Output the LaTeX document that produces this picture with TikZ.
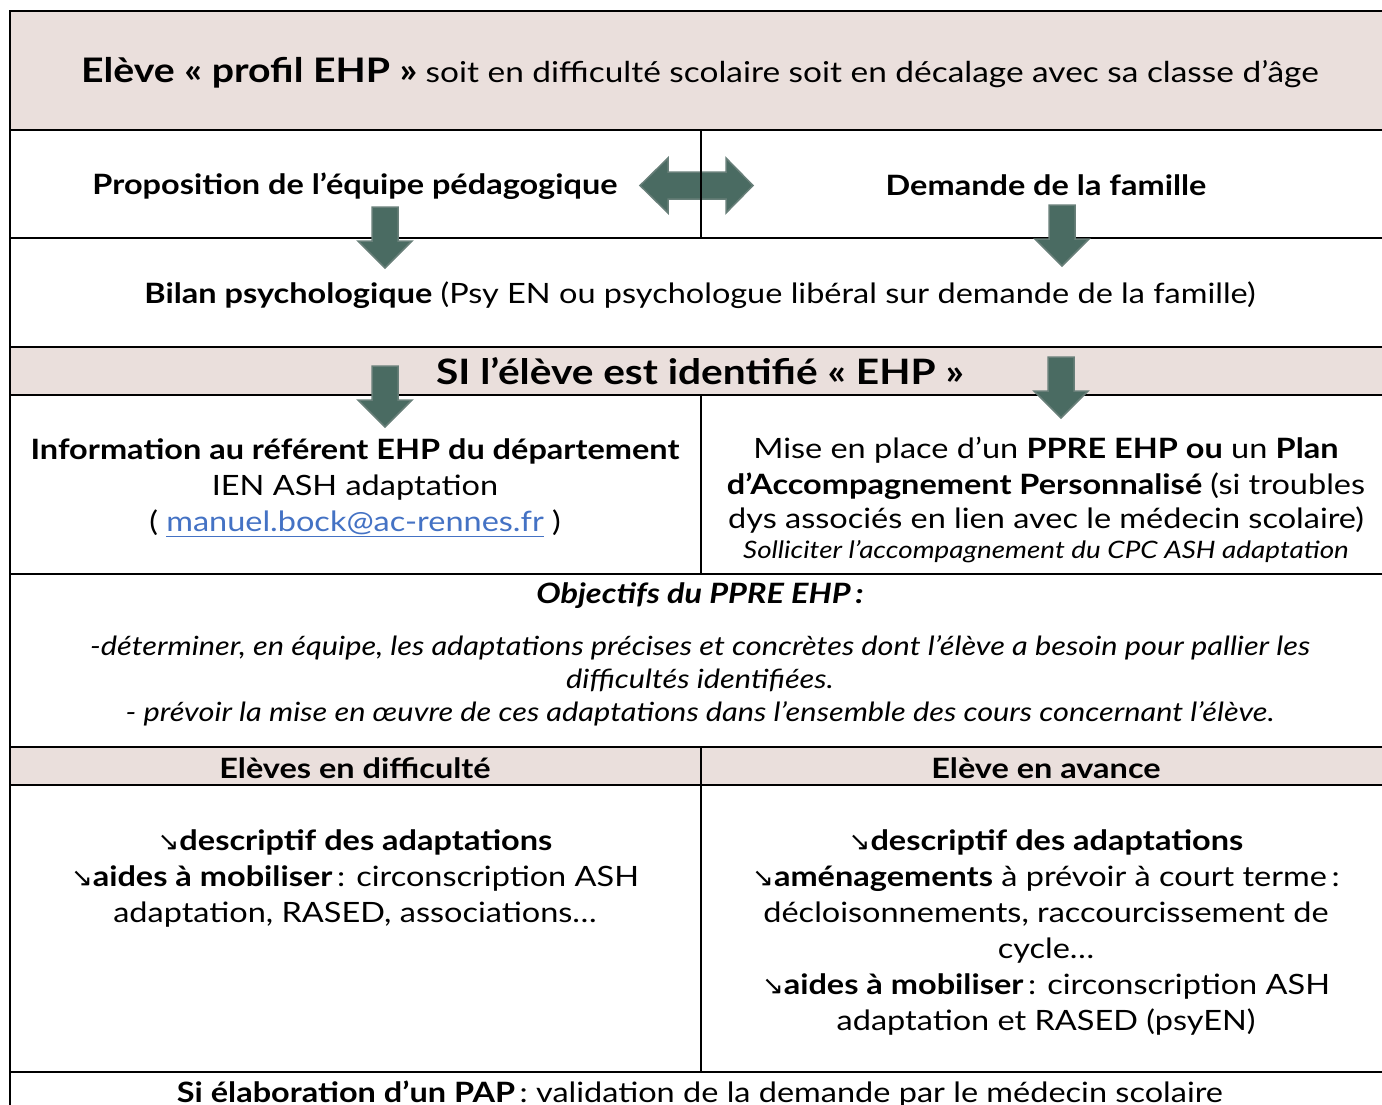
\documentclass[tikz,border=0pt]{standalone}
\usepackage{fontspec}
\setmainfont{Lato}[FakeStretch=1.16]
\newfontfamily\arrowsym{DejaVu Sans}
\definecolor{rowpink}{HTML}{EADFDC}
\definecolor{arrowfill}{HTML}{4A6B62}
\definecolor{arrowline}{HTML}{687F79}
\definecolor{linkblue}{HTML}{4472C4}
\newcommand{\dsym}{{\arrowsym\fontsize{26}{36}\selectfont ↘}}
\tikzset{
  grid/.style={line width=2pt, draw=black},
  band/.style={fill=rowpink},
  txt/.style={align=center, inner sep=0pt, font=\fontsize{28}{36}\selectfont},
  bigarrow/.style={fill=arrowfill, draw=arrowline, line width=1.5pt, line join=miter},
  downarr/.pic={\path[bigarrow] (-13,0) -- (13,0) -- (13,34) -- (27,34) -- (0,61) -- (-27,34) -- (-13,34) -- cycle;}
}
\begin{document}
\begin{tikzpicture}[x=1pt,y=-1pt]
\useasboundingbox (0,0) rectangle (1382,1104);
\clip (0,0) rectangle (1382,1104);
% bands
\path[band] (10,11) rectangle (1390,130);
\path[band] (10,347) rectangle (1390,395);
\path[band] (10,747) rectangle (1390,785);
% double arrow (under divider)
\path[bigarrow] (640,185.5) -- (668,158) -- (668,172) -- (726,172) -- (726,158) -- (753,185.5)
  -- (726,213) -- (726,199) -- (668,199) -- (668,213) -- cycle;
% grid
\draw[grid] (10,11) -- (1390,11);
\draw[grid] (10,10) -- (10,1110);
\foreach \yy in {130,238,347,395,574,747,785,1072} \draw[grid] (10,\yy) -- (1390,\yy);
\draw[grid] (701,130) -- (701,238);
\draw[grid] (701,395) -- (701,574);
\draw[grid] (701,747) -- (701,1072);
% down arrows
\pic at (385,207) {downarr};
\pic at (1062,205) {downarr};
\pic at (385,366) {downarr};
\pic at (1061,357) {downarr};
% texts
\node[txt] (title) at (700,73) {{\fontsize{33.8}{40}\selectfont\bfseries Elève «~profil EHP~»} {\fontsize{28.8}{36}\selectfont soit en difficulté scolaire soit en décalage avec sa classe d’âge}};
\node[txt,font=\fontsize{28}{36}\selectfont\bfseries] (prop) at (355,186) {Proposition de l’équipe pédagogique};
\node[txt,font=\fontsize{28}{36}\selectfont\bfseries] (dem) at (1046,185) {Demande de la famille};
\node[txt] (bilan) at (700,295) {\textbf{Bilan psychologique} (Psy EN ou psychologue libéral sur demande de la famille)};
\node[txt,font=\fontsize{35}{40}\selectfont\bfseries] (si) at (700,371) {SI l’élève est identifié «~EHP~»};
\node[txt] (info) at (355,488) {\textbf{Information au référent EHP du département}\\IEN ASH adaptation\\( \textcolor{linkblue}{\underline{manuel.bock@ac-rennes.fr}} )};
\node[txt] (ppre) at (1046,500) {Mise en place d’un \textbf{PPRE EHP ou} un \textbf{Plan}\\\textbf{d’Accompagnement Personnalisé} (si troubles\\[-2pt]dys associés en lien avec le médecin scolaire)\\[-6pt]{\fontsize{24}{30}\selectfont\itshape Solliciter l’accompagnement du CPC ASH adaptation}};
\node[txt,font=\fontsize{28}{33}\selectfont\bfseries\itshape] (obj) at (700,596) {Objectifs du PPRE EHP\,:};
\node[txt,font=\fontsize{26.5}{33}\selectfont\itshape] (objtxt) at (700,681) {-déterminer, en équipe, les adaptations précises et concrètes dont l’élève a besoin pour pallier les\\difficultés identifiées.\\- prévoir la mise en œuvre de ces adaptations dans l’ensemble des cours concernant l’élève.};
\node[txt,font=\fontsize{28}{36}\selectfont\bfseries] (hdiff) at (355,768) {Elèves en difficulté};
\node[txt,font=\fontsize{28}{36}\selectfont\bfseries] (hav) at (1046,768) {Elève en avance};
\node[txt] (diff) at (355,878) {\dsym\textbf{descriptif des adaptations}\\\dsym\textbf{aides à mobiliser}\,: circonscription ASH\\adaptation, RASED, associations…};
\node[txt] (av) at (1046,932) {\dsym\textbf{descriptif des adaptations}\\\dsym\textbf{aménagements} à prévoir à court terme\,:\\décloisonnements, raccourcissement de\\cycle…\\\dsym\textbf{aides à mobiliser}\,: circonscription ASH\\adaptation et RASED (psyEN)};
\node[txt,anchor=base] (pap) at (700,1102) {\textbf{Si élaboration d’un PAP}\,: validation de la demande par le médecin scolaire};
\end{tikzpicture}
\end{document}
